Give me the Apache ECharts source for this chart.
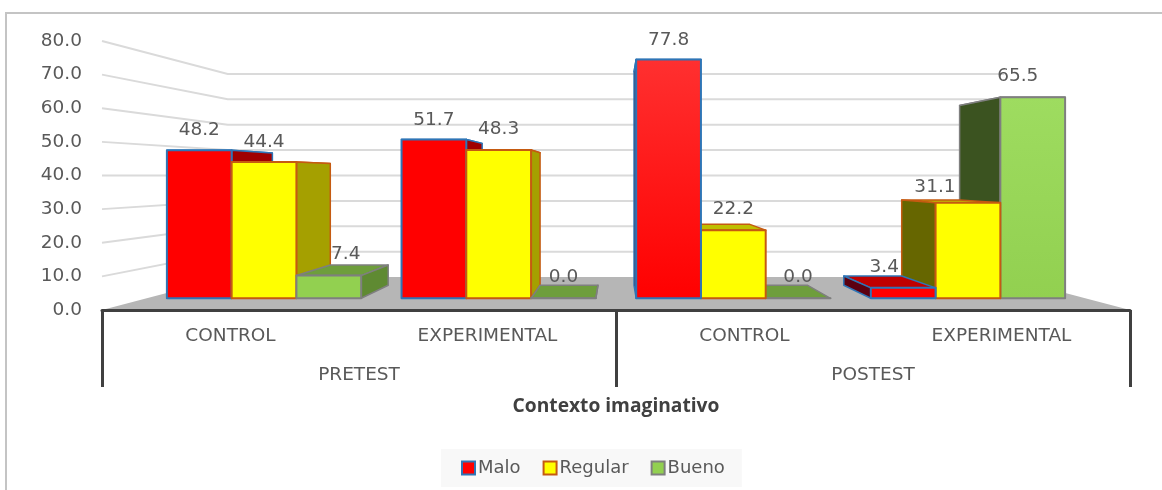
<!DOCTYPE html>
<html>
<head>
<meta charset="utf-8">
<style>html,body{margin:0;padding:0;background:#fff}#c{width:1162px;height:490px}#c canvas{filter:blur(0.4px)}</style>
<script src="https://cdn.jsdelivr.net/npm/echarts@6/dist/echarts.min.js"></script>
</head>
<body>
<div id="c"></div>
<script>
var categories = ['CONTROL', 'EXPERIMENTAL', 'CONTROL', 'EXPERIMENTAL'];
var groups = ['PRETEST', 'POSTEST'];
var malo = [48.2, 51.7, 77.8, 3.4];
var regular = [44.4, 48.3, 22.2, 31.1];
var bueno = [7.4, 0.0, 0.0, 65.5];
var wallTicks = [10, 20, 30, 40, 50, 60, 70, 80];

var FONT = '"DejaVu Sans",sans-serif';
var TEXT = '#595959';
var palette = [
  {front: '#FF0000', edge: '#2E75B6', right: '#A00000', left: '#5C0010', top: '#C00000', tall: '#FF3030'},
  {front: '#FFFF00', edge: '#C55A11', right: '#A5A000', left: '#666600', top: '#BFBF00', tall: '#FFFF00'},
  {front: '#92D050', edge: '#7F7F7F', right: '#5F8A32', left: '#3B5320', top: '#6E9E3C', tall: '#9EDC60'}
];
// perspective depth of each plane, as a fraction of the way to the vanishing point
var T_BARS = 0.087, T_DEPTH = 0.106, T_WALL = 0.2446, BAR_FRAC = 0.276;
var labelNudge = [
  [[0, 2], [0, 3], [0, 3], [-19, 1]],
  [[0, 2], [0, 1], [0, 1], [-33, 6]],
  [[17, 1], [0, 1], [0, 1], [-15, 1]]
];

function lerp(p, v, t) { return [p[0] + (v[0] - p[0]) * t, p[1] + (v[1] - p[1]) * t]; }
function vanishing(api) {
  var a = api.coord([1, 40]), b = api.coord([2, 40]);
  return [(a[0] + b[0]) / 2, a[1]];
}

function barRenderer(si) {
  return function (params, api) {
    var c = api.value(0), val = api.value(1), st = palette[si];
    var vp = vanishing(api), band = api.size([1, 0])[0];
    var w = band * BAR_FRAC;
    var topC = api.coord([c, val]), botC = api.coord([c, 0]);
    var x0 = topC[0] + (si - 1.5) * w, x1 = x0 + w;
    function f(x, y) { return lerp([x, y], vp, T_BARS); }
    function b(p) { return lerp(p, vp, T_DEPTH); }
    var ftl = f(x0, topC[1]), ftr = f(x1, topC[1]), fbl = f(x0, botC[1]), fbr = f(x1, botC[1]);
    var btl = b(ftl), btr = b(ftr), bbl = b(fbl), bbr = b(fbr);
    var leftOfVp = topC[0] < vp[0];
    var base = (leftOfVp ? si : 2 - si) * 10 + 10;
    function poly(points, fill, dz, lw) {
      return {type: 'polygon', z2: base + dz, shape: {points: points},
        style: {fill: fill, stroke: st.edge, lineWidth: lw, lineJoin: 'round'}};
    }
    var children = [poly([ftl, ftr, btr, btl], st.top, 0, 1.5)];
    if (leftOfVp) children.push(poly([ftr, fbr, bbr, btr], st.right, 1, 1.5));
    else children.push(poly([ftl, fbl, bbl, btl], st.left, 1, 1.5));
    var fill = val > 60 ? {type: 'linear', x: 0, y: 0, x2: 0, y2: 1,
      colorStops: [{offset: 0, color: st.tall}, {offset: 1, color: st.front}]} : st.front;
    children.push(poly([ftl, ftr, fbr, fbl], fill, 2, 2));
    var n = labelNudge[si][params.dataIndex];
    children.push({type: 'text', z2: 200, style: {
      text: val.toFixed(1), x: (ftl[0] + ftr[0]) / 2 + n[0], y: ftl[1] - 22 + n[1],
      align: 'center', verticalAlign: 'middle', fill: TEXT, font: '18.5px ' + FONT}});
    return {type: 'group', children: children};
  };
}

function barSeries(name, values, si) {
  return {
    name: name, type: 'custom', xAxisIndex: 0, yAxisIndex: 0, z: 3, silent: true,
    itemStyle: {color: palette[si].front, borderColor: palette[si].edge, borderWidth: 2},
    encode: {x: 0, y: 1},
    data: values.map(function (v, i) { return [i, v]; }),
    renderItem: barRenderer(si)
  };
}

var wallSeries = {
  type: 'custom', xAxisIndex: 0, yAxisIndex: 0, z: 1, silent: true,
  encode: {x: 0, y: 1},
  data: wallTicks.map(function (v) { return [0, v]; }),
  renderItem: function (params, api) {
    var vp = vanishing(api), band = api.size([1, 0])[0];
    var p = api.coord([0, api.value(1)]);
    var xl = p[0] - band / 2, xr = xl + band * categories.length;
    var a = [xl, p[1]], bp = lerp(a, vp, T_WALL), cp = lerp([xr, p[1]], vp, T_WALL);
    return {type: 'polyline', shape: {points: [a, bp, cp]},
      style: {fill: null, stroke: '#DADADA', lineWidth: 2}};
  }
};
var floorSeries = {
  type: 'custom', xAxisIndex: 0, yAxisIndex: 0, z: 2, silent: true,
  encode: {x: 0, y: 1},
  data: [[0, 0]],
  renderItem: function (params, api) {
    var vp = vanishing(api), band = api.size([1, 0])[0];
    var p = api.coord([0, 0]);
    var xl = p[0] - band / 2, xr = xl + band * categories.length;
    var a = [xl, p[1]], d = [xr, p[1]];
    return {type: 'polygon', shape: {points: [a, lerp(a, vp, T_WALL), lerp(d, vp, T_WALL), d]},
      style: {fill: '#B6B6B6'}};
  }
};

var chart = echarts.init(document.getElementById('c'), null, {renderer: 'canvas'});
chart.setOption({
  animation: false,
  backgroundColor: '#fff',
  graphic: [{type: 'rect', z: -10, shape: {x: 6, y: 13, width: 1300, height: 700},
    style: {fill: '#fff', stroke: '#C4C4C4', lineWidth: 2}}],
  grid: {left: 102, top: 41, width: 1028, height: 269},
  legend: {
    left: 441, top: 449, padding: [10, 17, 10, 20], itemGap: 22, itemWidth: 13, itemHeight: 13,
    icon: 'rect', backgroundColor: '#F8F8F8', data: ['Malo', 'Regular', 'Bueno'],
    textStyle: {color: TEXT, fontFamily: FONT, fontSize: 18, padding: [0, 0, 0, -2]}
  },
  xAxis: [{
    type: 'category', data: categories, position: 'bottom', z: 10,
    axisLine: {show: true, lineStyle: {color: '#404040', width: 3}},
    axisTick: {show: false},
    axisLabel: {color: TEXT, fontFamily: FONT, fontSize: 18.5, margin: 17, interval: 0},
    splitLine: {show: false}
  }, {
    type: 'category', data: groups, position: 'bottom', z: 10,
    name: 'Contexto imaginativo', nameLocation: 'middle', nameGap: 87,
    nameTextStyle: {color: '#404040', fontFamily: '"Open Sans",sans-serif', fontSize: 19.2, fontWeight: 'bold'},
    axisLine: {show: false},
    axisTick: {show: true, length: 77, alignWithLabel: false, lineStyle: {color: '#404040', width: 3}},
    axisLabel: {color: TEXT, fontFamily: FONT, fontSize: 18.5, margin: 56, interval: 0},
    splitLine: {show: false}
  }],
  yAxis: {
    type: 'value', min: 0, max: 80, interval: 10,
    axisLine: {show: false}, axisTick: {show: false}, splitLine: {show: false},
    axisLabel: {color: TEXT, fontFamily: FONT, fontSize: 18.5, margin: 20, padding: [6, 0, 0, 0],
      formatter: function (v) { return v.toFixed(1); }}
  },
  series: [wallSeries, floorSeries,
    barSeries('Malo', malo, 0), barSeries('Regular', regular, 1), barSeries('Bueno', bueno, 2)]
});
</script>
</body>
</html>
